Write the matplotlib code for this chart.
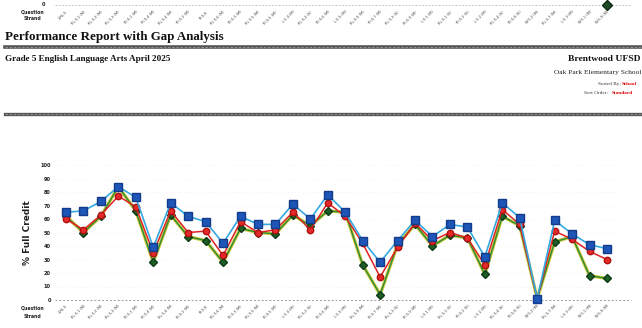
import matplotlib

matplotlib.use("Agg")
import matplotlib.pyplot as plt
import matplotlib.patheffects as pe
import matplotlib.transforms as mtransforms
from matplotlib.lines import Line2D
import numpy as np

W, H = 642, 328

# Question strands (tiny rotated codes on the x axis)
strands = [
    "1.RL.5", "RL.5.1 (M)", "RL.5.2 (M)", "RL.5.3 (M)", "RI.5.1 (M)", "RI.5.4 (M)",
    "RL.5.4 (M)", "RI.5.2 (M)", "RI.5.8", "RL.5.6 (M)", "RI.5.3 (M)", "RL.5.5 (M)",
    "RI.5.5 (M)", "L.5.4 (M)", "RL.5.2 (S)", "RI.5.6 (M)", "L.5.5 (M)", "RL.5.9 (M)",
    "RI.5.7 (M)", "RL.5.3 (S)", "RI.5.9 (M)", "L.5.1 (M)", "RL.5.1 (S)", "RI.5.2 (S)",
    "L.5.2 (M)", "RL.5.4 (S)", "RI.5.8 (S)", "W.5.2 (M)", "RL.5.7 (M)", "L.5.3 (M)",
    "W.5.1 (M)", "W.5.9 (M)",
]
# % full credit
region = [65, 66, 73, 84, 76, 39, 72, 62, 58, 42, 62, 56, 56, 71, 60, 78,
          65, 44, 28, 44, 59, 47, 56, 54, 32, 72, 61, 1, 59, 49, 41, 38]
school = [60, 52, 63, 77, 69, 35, 66, 50, 51, 33, 58, 50, 52, 65, 52, 72,
          62, 42, 17, 39, 57, 44, 50, 46, 26, 67, 56, 1, 51, 45, 36, 30]
state = [62, 50, 62, 84, 66, 28, 63, 47, 44, 28, 53, 50, 49, 63, 55, 66,
         65, 26, 4, 41, 56, 40, 48, 46, 19, 62, 55, 1, 43, 47, 18, 16]
# last point of the previous chart visible at the top edge
prev_last = 0

fig = plt.figure(figsize=(W / 100, H / 100), dpi=100)
fig.patch.set_facecolor("white")


def fy(py):
    return 1 - py / H


def fx(px):
    return px / W


# header texts
serif = "Liberation Serif"
fig.text(fx(5), fy(40), "Performance Report with Gap Analysis", fontsize=9.4,
         fontweight="bold", family=serif, va="baseline", color="#111111")
fig.text(fx(5), fy(61), "Grade 5 English Language Arts April 2025", fontsize=6.6,
         fontweight="bold", family=serif, va="baseline", color="#111111")
fig.text(fx(641), fy(61), "Brentwood UFSD", fontsize=6.8, fontweight="bold",
         family=serif, va="baseline", ha="right", color="#111111")
fig.text(fx(641), fy(74), "Oak Park Elementary School", fontsize=5.4,
         family=serif, va="baseline", ha="right", color="#222222")
fig.text(fx(598), fy(85), "Sorted By:", fontsize=3.8, family=serif,
         va="baseline", color="#333333")
fig.text(fx(622), fy(85), "School", fontsize=3.8, family=serif, fontweight="bold",
         va="baseline", color="#dd0000")
fig.text(fx(584), fy(94), "Sort Order:", fontsize=3.8, family=serif,
         va="baseline", color="#333333")
fig.text(fx(612), fy(94), "Standard", fontsize=3.8, family=serif, fontweight="bold",
         va="baseline", color="#dd0000")

# horizontal rules
for y0, lw in [(47, 2.6), (114, 2.4)]:
    fig.add_artist(Line2D([fx(5), 1], [fy(y0), fy(y0)], lw=lw, color="#555555",
                          transform=fig.transFigure))
    fig.add_artist(Line2D([fx(5), 1], [fy(y0), fy(y0)], lw=0.6, color="#999999",
                          ls=(0, (3, 2)), transform=fig.transFigure))

# main chart
left, right = 55, 620
ax = fig.add_axes([fx(left), fy(300), (right - left) / W, (300 - 165) / H])
x = np.arange(len(strands))
ax.set_xlim(-0.63, 31.745)
ax.set_ylim(0, 100)

ax.plot(x, state, color="#2a8a34", lw=1.0, zorder=3, clip_on=False,
        path_effects=[pe.Stroke(linewidth=2.4, foreground="#cfc83a"), pe.Normal()])
ax.plot(x, state, ls="none", marker="D", ms=4.2, mfc="#1d5e26", mec="#0f3a16",
        zorder=3.5, clip_on=False)
ax.plot(x, school, color="#e02222", lw=1.1, marker="o", ms=4.6, mfc="#e52a2a",
        mec="#b01010", zorder=4, clip_on=False)
ax.plot(x, region, color="#35a8e0", lw=1.2, marker="s", ms=5.2, mfc="#1e56b8",
        mec="#123c8a", zorder=5, clip_on=False)

for v in range(10, 101, 10):
    ax.axhline(v, color="#e4e4e4", lw=0.5, ls=(0, (1, 4)), zorder=0)
ax.plot([-0.63, 32.4], [0, 0], color="#9a9a9a", lw=0.7, ls=(0, (2, 2)),
        clip_on=False, zorder=1)

ax.set_yticks(range(0, 101, 10))
ax.set_yticklabels([str(v) for v in range(0, 101, 10)], fontsize=3.6,
                   fontweight="bold", color="#222222")
ax.set_xticks(x)
ax.set_xticklabels(strands, rotation=45, ha="right", rotation_mode="anchor",
                   fontsize=2.6, color="#444444")
ax.tick_params(length=0, pad=3)
for s in ax.spines.values():
    s.set_visible(False)
ax.set_ylabel("% Full Credit", fontsize=6.5, fontweight="bold", color="#222222",
              labelpad=6)

fig.text(fx(33), fy(308), "Question", fontsize=3.3, fontweight="bold",
         ha="center", va="center", color="#222222")
fig.text(fx(33), fy(316), "Strand", fontsize=3.3, fontweight="bold",
         ha="center", va="center", color="#222222")

# remnant of the previous chart at the top edge
trans = mtransforms.blended_transform_factory(ax.transData, fig.transFigure)
fig.add_artist(Line2D([-0.63, 32.4], [fy(5), fy(5)], color="#b5b5b5", lw=0.6,
                      ls=(0, (2, 2)), transform=trans))
fig.add_artist(Line2D([31], [fy(5)], marker="D", ms=5, mfc="#1d4a24",
                      mec="#0d2a12", ls="none", transform=trans))
fig.text(fx(45), fy(5), str(prev_last), fontsize=3.6, fontweight="bold", ha="right",
         va="center", color="#222222")
fig.text(fx(33), fy(12), "Question", fontsize=3.3, fontweight="bold",
         ha="center", va="center", color="#222222")
fig.text(fx(33), fy(19), "Strand", fontsize=3.3, fontweight="bold",
         ha="center", va="center", color="#222222")
for i, lab in enumerate(strands):
    fig.text(i, fy(10), lab, transform=trans, rotation=45, ha="right", va="top",
             rotation_mode="anchor", fontsize=2.6, color="#444444")

fig.savefig("out.png", dpi=100, facecolor="white")
